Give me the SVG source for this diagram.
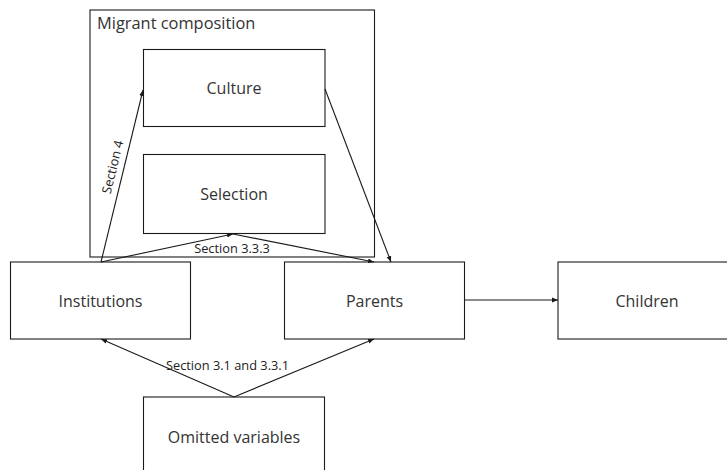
<svg xmlns="http://www.w3.org/2000/svg" width="727" height="470" viewBox="0 0 727 470">
<defs>
<marker id="ah" viewBox="0 0 10 10" refX="10" refY="5" markerWidth="6" markerHeight="6" markerUnits="userSpaceOnUse" orient="auto">
<path d="M0,1 L10,5 L0,9 z" fill="#1a1a1a"/>
</marker>
<style>
.box{fill:#fff;stroke:#1a1a1a;stroke-width:1.1}
.grp{fill:none;stroke:#1a1a1a;stroke-width:1.1}
.lbl{font-family:"Open Sans","Liberation Sans",sans-serif;font-size:16px;fill:#333;text-anchor:middle}
.sm{font-family:"Open Sans","Liberation Sans",sans-serif;font-size:12.8px;fill:#222;text-anchor:middle}
.edge{fill:none;stroke:#1a1a1a;stroke-width:1.1;marker-end:url(#ah)}
</style>
</defs>
<rect width="727" height="470" fill="#fff"/>
<g id="migrant-composition">
<rect class="grp" x="90" y="10" width="284.5" height="247"/>
<text x="97" y="29" style="font-family:'Open Sans','Liberation Sans',sans-serif;font-size:16.4px;fill:#333">Migrant composition</text>
</g>
<g id="culture">
<rect class="box" x="143.5" y="49.5" width="181.5" height="77"/>
<text class="lbl" x="234" y="94">Culture</text>
</g>
<g id="selection">
<rect class="box" x="143.5" y="154.5" width="181.5" height="79"/>
<text class="lbl" x="234" y="199.5">Selection</text>
</g>
<g id="institutions">
<rect class="box" x="10.5" y="262" width="180" height="77"/>
<text class="lbl" x="100.5" y="306.5">Institutions</text>
</g>
<g id="parents">
<rect class="box" x="284.5" y="262" width="180" height="77"/>
<text class="lbl" x="374.5" y="306.5">Parents</text>
</g>
<g id="children">
<rect class="box" x="558" y="262" width="180" height="77"/>
<text class="lbl" x="647" y="306.5">Children</text>
</g>
<g id="omitted-variables">
<rect class="box" x="143.5" y="397" width="181" height="80"/>
<text class="lbl" x="234" y="443">Omitted variables</text>
</g>
<g id="connectors">
<line class="edge" x1="101" y1="262" x2="143" y2="90"/>
<line class="edge" x1="101" y1="262" x2="233" y2="234"/>
<line class="edge" x1="233" y1="234" x2="374" y2="262"/>
<line class="edge" x1="325" y1="89" x2="391" y2="262"/>
<line class="edge" x1="464.5" y1="300" x2="558" y2="300"/>
<line class="edge" x1="234" y1="397" x2="101" y2="339"/>
<line class="edge" x1="234" y1="397" x2="374" y2="339"/>
<text class="sm" transform="translate(117,168) rotate(-76.3)">Section 4</text>
<text class="sm" x="232" y="252.5">Section 3.3.3</text>
<text class="sm" x="227.5" y="370">Section 3.1 and 3.3.1</text>
</g>
</svg>
